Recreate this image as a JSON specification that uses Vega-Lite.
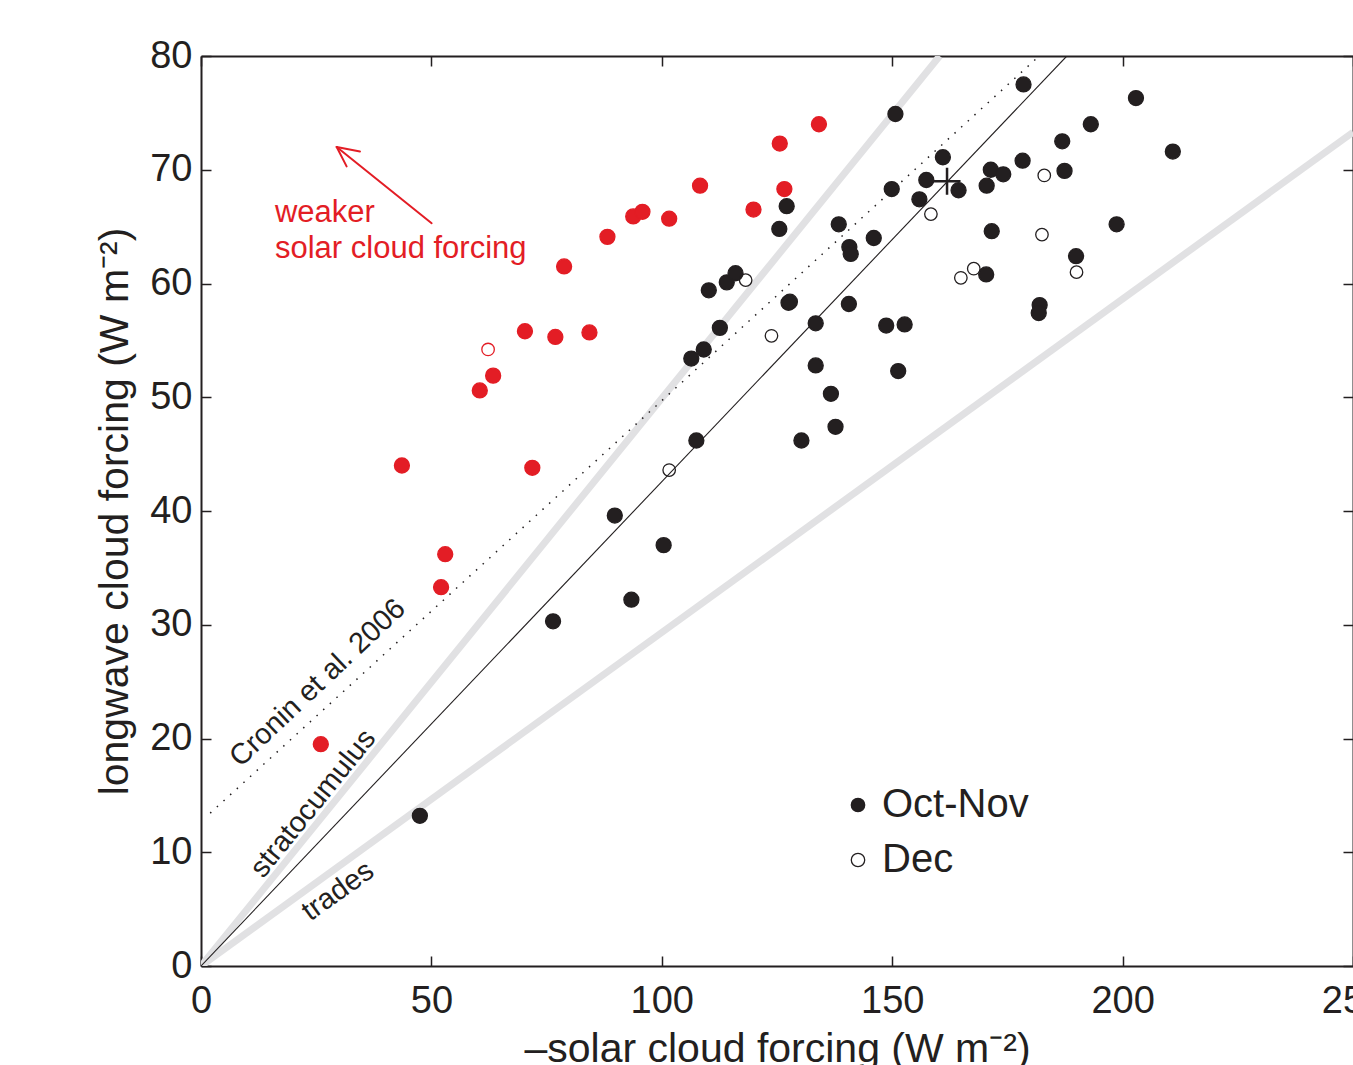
{
  "$schema": "https://vega.github.io/schema/vega-lite/v6.json",
  "width": 1152,
  "height": 910,
  "autosize": {"type": "none"},
  "padding": {"left": 201, "top": 56, "right": 0, "bottom": 99},
  "background": "white",
  "config": {
    "view": {"stroke": null},
    "font": "Liberation Sans",
    "axis": {
      "grid": false,
      "domainColor": "#231f20",
      "domainWidth": 2,
      "tickColor": "#231f20",
      "tickWidth": 1.5,
      "tickSize": -10,
      "labelFont": "Liberation Sans",
      "labelFontSize": 38,
      "labelColor": "#231f20",
      "labelFlush": false,
      "labelOverlap": false,
      "labelBound": false,
      "titleFont": "Liberation Sans",
      "titleFontSize": 41,
      "titleFontWeight": "normal",
      "titleColor": "#231f20"
    }
  },
  "datasets": {
    "pts": [
      {"x": 47.5, "y": 13.2, "month": "Oct-Nov", "group": "black"},
      {"x": 76.4, "y": 30.3, "month": "Oct-Nov", "group": "black"},
      {"x": 89.8, "y": 39.6, "month": "Oct-Nov", "group": "black"},
      {"x": 93.4, "y": 32.2, "month": "Oct-Nov", "group": "black"},
      {"x": 100.4, "y": 37.0, "month": "Oct-Nov", "group": "black"},
      {"x": 107.5, "y": 46.2, "month": "Oct-Nov", "group": "black"},
      {"x": 106.4, "y": 53.4, "month": "Oct-Nov", "group": "black"},
      {"x": 109.1, "y": 54.2, "month": "Oct-Nov", "group": "black"},
      {"x": 110.2, "y": 59.4, "month": "Oct-Nov", "group": "black"},
      {"x": 112.6, "y": 56.1, "month": "Oct-Nov", "group": "black"},
      {"x": 114.1, "y": 60.1, "month": "Oct-Nov", "group": "black"},
      {"x": 116.0, "y": 60.9, "month": "Oct-Nov", "group": "black"},
      {"x": 125.5, "y": 64.8, "month": "Oct-Nov", "group": "black"},
      {"x": 127.1, "y": 66.8, "month": "Oct-Nov", "group": "black"},
      {"x": 127.5, "y": 58.3, "month": "Oct-Nov", "group": "black"},
      {"x": 127.8, "y": 58.4, "month": "Oct-Nov", "group": "black"},
      {"x": 130.3, "y": 46.2, "month": "Oct-Nov", "group": "black"},
      {"x": 133.4, "y": 56.5, "month": "Oct-Nov", "group": "black"},
      {"x": 133.4, "y": 52.8, "month": "Oct-Nov", "group": "black"},
      {"x": 136.7, "y": 50.3, "month": "Oct-Nov", "group": "black"},
      {"x": 137.7, "y": 47.4, "month": "Oct-Nov", "group": "black"},
      {"x": 138.4, "y": 65.2, "month": "Oct-Nov", "group": "black"},
      {"x": 140.7, "y": 63.2, "month": "Oct-Nov", "group": "black"},
      {"x": 141.0, "y": 62.6, "month": "Oct-Nov", "group": "black"},
      {"x": 140.6, "y": 58.2, "month": "Oct-Nov", "group": "black"},
      {"x": 146.0, "y": 64.0, "month": "Oct-Nov", "group": "black"},
      {"x": 148.7, "y": 56.3, "month": "Oct-Nov", "group": "black"},
      {"x": 152.7, "y": 56.4, "month": "Oct-Nov", "group": "black"},
      {"x": 150.7, "y": 74.9, "month": "Oct-Nov", "group": "black"},
      {"x": 149.9, "y": 68.3, "month": "Oct-Nov", "group": "black"},
      {"x": 151.3, "y": 52.3, "month": "Oct-Nov", "group": "black"},
      {"x": 155.9, "y": 67.4, "month": "Oct-Nov", "group": "black"},
      {"x": 157.4, "y": 69.1, "month": "Oct-Nov", "group": "black"},
      {"x": 161.0, "y": 71.1, "month": "Oct-Nov", "group": "black"},
      {"x": 164.4, "y": 68.2, "month": "Oct-Nov", "group": "black"},
      {"x": 170.5, "y": 68.6, "month": "Oct-Nov", "group": "black"},
      {"x": 171.4, "y": 70.0, "month": "Oct-Nov", "group": "black"},
      {"x": 174.1, "y": 69.6, "month": "Oct-Nov", "group": "black"},
      {"x": 171.6, "y": 64.6, "month": "Oct-Nov", "group": "black"},
      {"x": 170.4, "y": 60.8, "month": "Oct-Nov", "group": "black"},
      {"x": 178.3, "y": 70.8, "month": "Oct-Nov", "group": "black"},
      {"x": 178.5, "y": 77.5, "month": "Oct-Nov", "group": "black"},
      {"x": 186.9, "y": 72.5, "month": "Oct-Nov", "group": "black"},
      {"x": 187.4, "y": 69.9, "month": "Oct-Nov", "group": "black"},
      {"x": 193.1, "y": 74.0, "month": "Oct-Nov", "group": "black"},
      {"x": 182.0, "y": 58.1, "month": "Oct-Nov", "group": "black"},
      {"x": 181.8, "y": 57.4, "month": "Oct-Nov", "group": "black"},
      {"x": 189.9, "y": 62.4, "month": "Oct-Nov", "group": "black"},
      {"x": 198.7, "y": 65.2, "month": "Oct-Nov", "group": "black"},
      {"x": 202.9, "y": 76.3, "month": "Oct-Nov", "group": "black"},
      {"x": 210.9, "y": 71.6, "month": "Oct-Nov", "group": "black"},
      {"x": 101.6, "y": 43.6, "month": "Dec", "group": "black"},
      {"x": 118.2, "y": 60.3, "month": "Dec", "group": "black"},
      {"x": 123.8, "y": 55.4, "month": "Dec", "group": "black"},
      {"x": 158.4, "y": 66.1, "month": "Dec", "group": "black"},
      {"x": 164.9, "y": 60.5, "month": "Dec", "group": "black"},
      {"x": 167.7, "y": 61.3, "month": "Dec", "group": "black"},
      {"x": 183.0, "y": 69.5, "month": "Dec", "group": "black"},
      {"x": 182.5, "y": 64.3, "month": "Dec", "group": "black"},
      {"x": 190.0, "y": 61.0, "month": "Dec", "group": "black"},
      {"x": 26.0, "y": 19.5, "month": "Oct-Nov", "group": "red"},
      {"x": 52.1, "y": 33.3, "month": "Oct-Nov", "group": "red"},
      {"x": 53.0, "y": 36.2, "month": "Oct-Nov", "group": "red"},
      {"x": 43.6, "y": 44.0, "month": "Oct-Nov", "group": "red"},
      {"x": 71.9, "y": 43.8, "month": "Oct-Nov", "group": "red"},
      {"x": 60.5, "y": 50.6, "month": "Oct-Nov", "group": "red"},
      {"x": 63.4, "y": 51.9, "month": "Oct-Nov", "group": "red"},
      {"x": 70.3, "y": 55.8, "month": "Oct-Nov", "group": "red"},
      {"x": 76.9, "y": 55.3, "month": "Oct-Nov", "group": "red"},
      {"x": 84.3, "y": 55.7, "month": "Oct-Nov", "group": "red"},
      {"x": 78.8, "y": 61.5, "month": "Oct-Nov", "group": "red"},
      {"x": 88.2, "y": 64.1, "month": "Oct-Nov", "group": "red"},
      {"x": 93.8, "y": 65.9, "month": "Oct-Nov", "group": "red"},
      {"x": 95.8, "y": 66.3, "month": "Oct-Nov", "group": "red"},
      {"x": 101.6, "y": 65.7, "month": "Oct-Nov", "group": "red"},
      {"x": 108.3, "y": 68.6, "month": "Oct-Nov", "group": "red"},
      {"x": 119.9, "y": 66.5, "month": "Oct-Nov", "group": "red"},
      {"x": 126.6, "y": 68.3, "month": "Oct-Nov", "group": "red"},
      {"x": 125.6, "y": 72.3, "month": "Oct-Nov", "group": "red"},
      {"x": 134.1, "y": 74.0, "month": "Oct-Nov", "group": "red"},
      {"x": 62.3, "y": 54.2, "month": "Dec", "group": "red"}
    ],
    "refs": [
      {"name": "trades", "x": 0, "y": 0, "x2": 250, "y2": 73.3},
      {"name": "stratocumulus", "x": 0, "y": 0, "x2": 160.3, "y2": 80},
      {"name": "fit", "x": 0, "y": 0, "x2": 187.9, "y2": 80},
      {"name": "cronin", "x": 2, "y": 13.44, "x2": 181.9, "y2": 80},
      {"name": "arrow", "x": 50.05, "y": 65.3, "x2": 29.45, "y2": 72.0},
      {"name": "arrow", "x": 29.45, "y": 72.0, "x2": 34.5, "y2": 71.6},
      {"name": "arrow", "x": 29.45, "y": 72.0, "x2": 31.6, "y2": 70.3}
    ],
    "notes": [
      {"name": "cronin", "text": "Cronin et al. 2006", "x": 25.3, "y": 24.9},
      {"name": "stratocumulus", "text": "stratocumulus", "x": 24.3, "y": 14.3},
      {"name": "trades", "text": "trades", "x": 29.7, "y": 6.6},
      {"name": "weaker", "text": "weaker", "x": 16.05, "y": 65.4},
      {"name": "weaker", "text": "solar cloud forcing", "x": 16.05, "y": 62.24}
    ],
    "mean": [{"x": 161.9, "y": 69.0}]
  },
  "layer": [
    {
      "data": {"name": "refs"},
      "transform": [{"filter": "datum.name === 'trades'"}],
      "mark": {"type": "rule", "color": "#e1e1e3", "strokeWidth": 7, "clip": true},
      "encoding": {
        "x": {"field": "x", "type": "quantitative", "scale": {"domain": [0, 250], "nice": false, "zero": false},
          "axis": {"orient": "bottom", "values": [0, 50, 100, 150, 200, 250], "labelPadding": 26, "title": "–solar cloud forcing (W m⁻²)", "titlePadding": 9}},
        "y": {"field": "y", "type": "quantitative", "scale": {"domain": [0, 80], "nice": false, "zero": false},
          "axis": {"orient": "left", "values": [0, 10, 20, 30, 40, 50, 60, 70, 80], "labelPadding": 19, "title": "longwave cloud forcing (W m⁻²)", "titlePadding": 13}},
        "x2": {"field": "x2"},
        "y2": {"field": "y2"}
      }
    },
    {
      "data": {"name": "refs"},
      "transform": [{"filter": "datum.name === 'stratocumulus'"}],
      "mark": {"type": "rule", "color": "#e1e1e3", "strokeWidth": 7, "clip": true},
      "encoding": {
        "x": {"field": "x", "type": "quantitative", "scale": {"domain": [0, 250], "nice": false, "zero": false},
          "axis": {"orient": "top", "values": [0, 50, 100, 150, 200, 250], "labels": false, "title": null}},
        "y": {"field": "y", "type": "quantitative", "scale": {"domain": [0, 80], "nice": false, "zero": false},
          "axis": {"orient": "right", "values": [0, 10, 20, 30, 40, 50, 60, 70, 80], "labels": false, "title": null}},
        "x2": {"field": "x2"},
        "y2": {"field": "y2"}
      }
    },
    {
      "data": {"name": "refs"},
      "transform": [{"filter": "datum.name === 'fit'"}],
      "mark": {"type": "rule", "color": "#231f20", "strokeWidth": 1.1, "clip": true},
      "encoding": {
        "x": {"field": "x", "type": "quantitative", "axis": null},
        "y": {"field": "y", "type": "quantitative", "axis": null},
        "x2": {"field": "x2"},
        "y2": {"field": "y2"}
      }
    },
    {
      "data": {"name": "refs"},
      "transform": [{"filter": "datum.name === 'cronin'"}],
      "mark": {"type": "rule", "color": "#231f20", "strokeWidth": 1.5, "strokeDash": [1.5, 7.5], "clip": true},
      "encoding": {
        "x": {"field": "x", "type": "quantitative", "axis": null},
        "y": {"field": "y", "type": "quantitative", "axis": null},
        "x2": {"field": "x2"},
        "y2": {"field": "y2"}
      }
    },
    {
      "data": {"name": "refs"},
      "transform": [{"filter": "datum.name === 'arrow'"}],
      "mark": {"type": "rule", "color": "#e31d25", "strokeWidth": 2, "strokeCap": "round"},
      "encoding": {
        "x": {"field": "x", "type": "quantitative", "axis": null},
        "y": {"field": "y", "type": "quantitative", "axis": null},
        "x2": {"field": "x2"},
        "y2": {"field": "y2"}
      }
    },
    {
      "data": {"name": "notes"},
      "transform": [{"filter": "datum.name === 'cronin'"}],
      "mark": {"type": "text", "font": "Liberation Sans", "fontSize": 29, "color": "#231f20", "angle": 316.6, "align": "center", "baseline": "middle"},
      "encoding": {
        "x": {"field": "x", "type": "quantitative", "axis": null},
        "y": {"field": "y", "type": "quantitative", "axis": null},
        "text": {"field": "text"}
      }
    },
    {
      "data": {"name": "notes"},
      "transform": [{"filter": "datum.name === 'stratocumulus'"}],
      "mark": {"type": "text", "font": "Liberation Sans", "fontSize": 29, "color": "#231f20", "angle": 309, "align": "center", "baseline": "middle"},
      "encoding": {
        "x": {"field": "x", "type": "quantitative", "axis": null},
        "y": {"field": "y", "type": "quantitative", "axis": null},
        "text": {"field": "text"}
      }
    },
    {
      "data": {"name": "notes"},
      "transform": [{"filter": "datum.name === 'trades'"}],
      "mark": {"type": "text", "font": "Liberation Sans", "fontSize": 29, "color": "#231f20", "angle": 324.5, "align": "center", "baseline": "middle"},
      "encoding": {
        "x": {"field": "x", "type": "quantitative", "axis": null},
        "y": {"field": "y", "type": "quantitative", "axis": null},
        "text": {"field": "text"}
      }
    },
    {
      "data": {"name": "notes"},
      "transform": [{"filter": "datum.name === 'weaker'"}],
      "mark": {"type": "text", "font": "Liberation Sans", "fontSize": 31, "color": "#e31d25", "align": "left", "baseline": "alphabetic"},
      "encoding": {
        "x": {"field": "x", "type": "quantitative", "axis": null},
        "y": {"field": "y", "type": "quantitative", "axis": null},
        "text": {"field": "text"}
      }
    },
    {
      "data": {"name": "pts"},
      "transform": [{"filter": "datum.group === 'black'"}],
      "mark": {"type": "point", "shape": "circle", "filled": true, "opacity": 1, "stroke": "#231f20", "strokeWidth": 1.3},
      "encoding": {
        "x": {"field": "x", "type": "quantitative", "axis": null},
        "y": {"field": "y", "type": "quantitative", "axis": null},
        "fill": {"field": "month", "type": "nominal",
          "scale": {"domain": ["Oct-Nov", "Dec"], "range": ["#231f20", "rgba(255,255,255,0)"]},
          "legend": {"orient": "none", "legendX": 637, "legendY": 729, "title": null, "padding": 0,
            "labelFontSize": 40, "labelFont": "Liberation Sans", "labelColor": "#231f20", "labelOffset": 4, "rowPadding": 15,
            "symbolType": "circle", "symbolSize": 180, "symbolStrokeColor": "#231f20", "symbolStrokeWidth": 1.3,
            "encode": {"symbols": {"update": {"stroke": {"value": "#231f20"}, "strokeWidth": {"value": 1.3}}}}}},
        "size": {"field": "month", "type": "nominal",
          "scale": {"domain": ["Oct-Nov", "Dec"], "range": [225, 156]}, "legend": null}
      }
    },
    {
      "data": {"name": "pts"},
      "transform": [{"filter": "datum.group === 'red'"}],
      "mark": {"type": "point", "shape": "circle", "filled": true, "opacity": 1, "stroke": "#e31d25", "strokeWidth": 1.3},
      "encoding": {
        "x": {"field": "x", "type": "quantitative", "axis": null},
        "y": {"field": "y", "type": "quantitative", "axis": null},
        "fill": {"field": "month", "type": "nominal",
          "scale": {"domain": ["Oct-Nov", "Dec"], "range": ["#e31d25", "rgba(255,255,255,0)"]}, "legend": null},
        "size": {"field": "month", "type": "nominal",
          "scale": {"domain": ["Oct-Nov", "Dec"], "range": [225, 156]}, "legend": null}
      }
    },
    {
      "data": {"name": "mean"},
      "mark": {"type": "point", "shape": "M-1,0H1M0,-1V1", "size": 729, "filled": false, "stroke": "#231f20", "strokeWidth": 2.5, "opacity": 1},
      "encoding": {
        "x": {"field": "x", "type": "quantitative", "axis": null},
        "y": {"field": "y", "type": "quantitative", "axis": null}
      }
    }
  ],
  "resolve": {
    "scale": {"fill": "independent"},
    "axis": {"x": "independent", "y": "independent"}
  }
}
